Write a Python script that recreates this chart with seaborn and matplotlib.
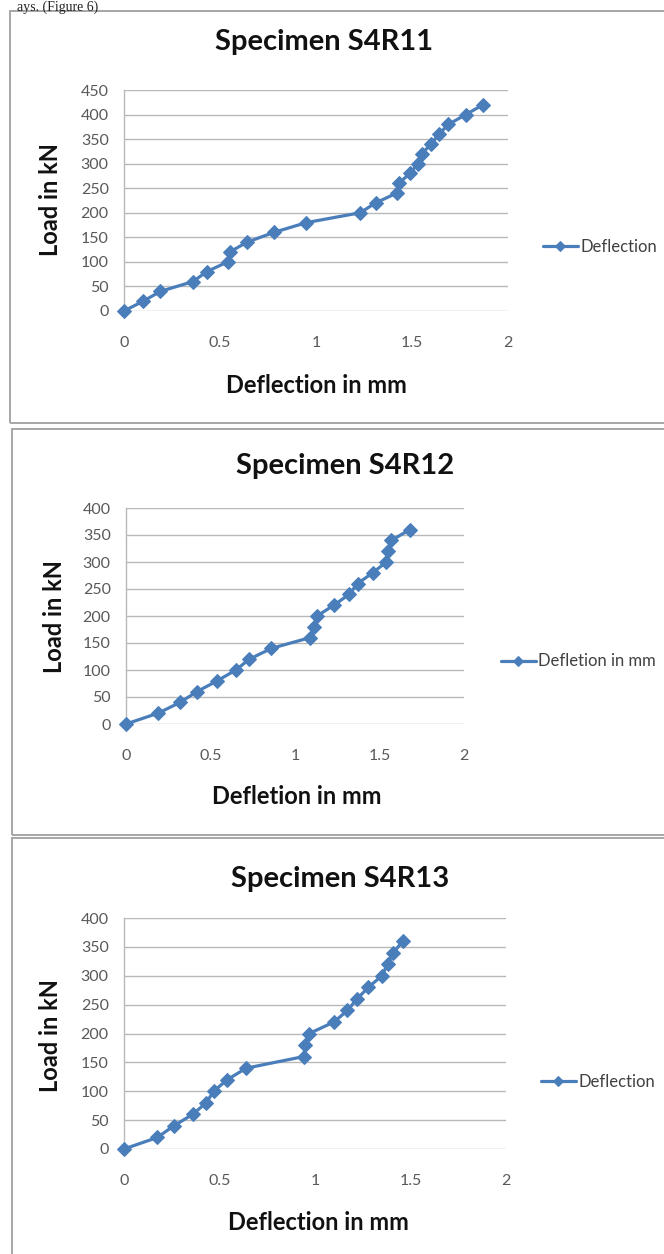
import numpy as np
import pandas as pd
import matplotlib
matplotlib.use("Agg")
import matplotlib.pyplot as plt
from matplotlib.patches import Rectangle
import seaborn as sns

# ------------------------------------------------------------------
# data
# ------------------------------------------------------------------
s11_defl = [0, 0.10, 0.19, 0.36, 0.43, 0.54, 0.55, 0.64, 0.78, 0.95, 1.23,
            1.31, 1.42, 1.43, 1.49, 1.53, 1.55, 1.60, 1.64, 1.69, 1.78, 1.87]
s11_load = [0, 20, 40, 60, 80, 100, 120, 140, 160, 180, 200,
            220, 240, 260, 280, 300, 320, 340, 360, 380, 400, 420]

s12_defl = [0, 0.19, 0.32, 0.42, 0.54, 0.65, 0.73, 0.86, 1.09, 1.11, 1.13,
            1.23, 1.32, 1.37, 1.46, 1.54, 1.55, 1.57, 1.68]
s12_load = [0, 20, 40, 60, 80, 100, 120, 140, 160, 180, 200,
            220, 240, 260, 280, 300, 320, 340, 360]

s13_defl = [0, 0.175, 0.26, 0.36, 0.43, 0.47, 0.54, 0.64, 0.94, 0.95, 0.97,
            1.10, 1.17, 1.22, 1.28, 1.35, 1.38, 1.41, 1.46]
s13_load = [0, 20, 40, 60, 80, 100, 120, 140, 160, 180, 200,
            220, 240, 260, 280, 300, 320, 340, 360]

titles = ["Specimen S4R11", "Specimen S4R12", "Specimen S4R13"]
xlabels = ["Deflection in mm", "Defletion in mm", "Deflection in mm"]
legend_labels = ["Deflection", "Defletion in mm", "Deflection"]
y_max = [450, 400, 400]

sns.set_theme(style="white")
plt.rcParams["font.family"] = ["Lato", "DejaVu Sans"]

W, H = 664, 1254
fig = plt.figure(figsize=(W / 100, H / 100), dpi=100)
fig.patch.set_facecolor("white")

BLUE = "#4a7ebb"
GRID = "#b8b8b8"
TICK = "#595959"


def px(x0, y0, x1, y1):
    # pixel box (top-left origin) -> figure fraction rect
    return [x0 / W, 1 - y1 / H, (x1 - x0) / W, (y1 - y0) / H]


# panel layout in pixels: frame, axes box, title/xlabel/ylabel positions
panels = [
    dict(frame=(10, 11, 675, 423), ax=(124, 90, 508, 311),
         title=(324, 42), xl=(316, 385), yl=(50, 200), leg=(1.073, 0.29)),
    dict(frame=(12, 429, 675, 835), ax=(126, 508, 464, 724),
         title=(345, 466), xl=(297, 796), yl=(54, 617), leg=(1.089, 0.29)),
    dict(frame=(12, 838, 675, 1262), ax=(124, 918, 506, 1149),
         title=(340, 879), xl=(318, 1223), yl=(50, 1036), leg=(1.073, 0.29)),
]

data = [(s11_defl, s11_load), (s12_defl, s12_load), (s13_defl, s13_load)]

# caption line at the very top of the page scan
fig.text(17 / W, 1 - 0.5 / H, "ays. (Figure 6)", family="Liberation Serif",
         fontsize=10, color="#222222", ha="left", va="top")

for i, p in enumerate(panels):
    fx0, fy0, fx1, fy1 = p["frame"]
    fig.patches.append(Rectangle((fx0 / W, 1 - fy1 / H), (fx1 - fx0) / W,
                                 (fy1 - fy0) / H, transform=fig.transFigure,
                                 facecolor="none", edgecolor="#a6a6a6",
                                 linewidth=1.4, zorder=-10))

    ax = fig.add_axes(px(*p["ax"]))
    ax.patch.set_alpha(0)
    df = pd.DataFrame({"defl": data[i][0], "load": data[i][1]})
    sns.lineplot(data=df, x="defl", y="load", ax=ax, sort=False,
                 estimator=None, color=BLUE, linewidth=2.3, marker="D",
                 markersize=7, markeredgecolor=BLUE, label=legend_labels[i],
                 clip_on=False, zorder=5)

    ax.set_xlim(0, 2)
    ax.set_ylim(0, y_max[i])
    ax.set_xticks([0, 0.5, 1, 1.5, 2])
    ax.set_xticklabels(["0", "0.5", "1", "1.5", "2"])
    ax.set_yticks(np.arange(0, y_max[i] + 1, 50))
    ax.yaxis.grid(True, color=GRID, linewidth=1.0)
    ax.xaxis.grid(False)
    for side in ["top", "right", "bottom"]:
        ax.spines[side].set_visible(False)
    ax.spines["left"].set_color(GRID)
    ax.spines["left"].set_linewidth(1.0)
    ax.tick_params(axis="both", length=0, labelsize=11.5, labelcolor=TICK)
    ax.tick_params(axis="x", pad=18)
    ax.tick_params(axis="y", pad=11)
    ax.set_xlabel("")
    ax.set_ylabel("")

    leg = ax.legend(loc="center left", bbox_to_anchor=p["leg"],
                    frameon=False, fontsize=12, handlelength=2.1,
                    handletextpad=0.15, borderaxespad=0, markerscale=0.75)
    for t in leg.get_texts():
        t.set_color("#404040")

    tx, ty = p["title"]
    fig.text(tx / W, 1 - ty / H, titles[i], fontsize=21, fontweight="bold",
             ha="center", va="center", color="#111111")
    xx, xy = p["xl"]
    fig.text(xx / W, 1 - xy / H, xlabels[i], fontsize=17, fontweight="bold",
             ha="center", va="center", color="#111111")
    yx, yy = p["yl"]
    fig.text(yx / W, 1 - yy / H, "Load in kN", fontsize=17, fontweight="bold",
             ha="center", va="center", rotation=90, color="#111111")

fig.savefig("out.png", dpi=100)
